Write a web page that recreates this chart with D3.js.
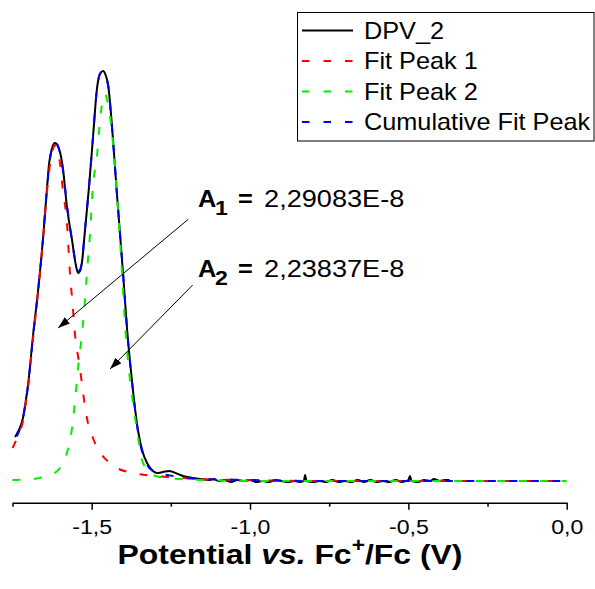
<!DOCTYPE html>
<html>
<head>
<meta charset="utf-8">
<script src="https://cdn.jsdelivr.net/npm/d3@7"></script>
<style>
  html, body { margin: 0; padding: 0; background: #fff; }
  svg { display: block; font-family: Arial, "Liberation Sans", sans-serif; }
</style>
</head>
<body>
<script>
// ---------- data (potential V, current µA) ----------
const dpv = [
  [-1.742, 0.44], [-1.733, 0.49], [-1.717, 0.63], [-1.709, 0.78], [-1.701, 0.96],
  [-1.685, 1.46], [-1.669, 1.91], [-1.654, 2.41], [-1.641, 2.93], [-1.635, 3.16],
  [-1.625, 3.33], [-1.616, 3.38], [-1.608, 3.36], [-1.600, 3.29], [-1.591, 3.13],
  [-1.578, 2.74], [-1.562, 2.41], [-1.550, 2.16], [-1.543, 2.08], [-1.537, 2.10],
  [-1.531, 2.18], [-1.521, 2.51], [-1.509, 2.92], [-1.496, 3.43], [-1.483, 3.93],
  [-1.474, 4.07], [-1.464, 4.10], [-1.456, 4.06], [-1.448, 3.96], [-1.433, 3.43],
  [-1.420, 2.86], [-1.401, 2.08], [-1.388, 1.51], [-1.373, 1.01], [-1.354, 0.51],
  [-1.338, 0.28], [-1.325, 0.18], [-1.310, 0.11], [-1.294, 0.08], [-1.275, 0.09],
  [-1.255, 0.10], [-1.243, 0.09], [-1.220, 0.06], [-1.199, 0.04], [-1.180, 0.03],
  [-1.158, 0.02], [-1.130, 0.01], [-1.115, 0.02], [-1.100, 0.00], [-1.080, 0.01],
  [-1.060, -0.01], [-1.040, 0.01], [-1.020, 0.00], [-1.000, 0.01], [-0.980, -0.01],
  [-0.960, 0.00], [-0.940, -0.01], [-0.920, 0.01], [-0.900, 0.00], [-0.880, -0.01],
  [-0.860, 0.00], [-0.840, -0.01], [-0.830, 0.00], [-0.826, 0.06], [-0.822, 0.00],
  [-0.800, -0.01], [-0.780, 0.00], [-0.760, -0.01], [-0.740, 0.01], [-0.720, -0.01],
  [-0.700, 0.00], [-0.680, -0.01], [-0.660, 0.01], [-0.640, -0.01], [-0.620, 0.01],
  [-0.600, -0.01], [-0.580, 0.00], [-0.560, -0.01], [-0.540, 0.01], [-0.520, -0.01],
  [-0.500, 0.01], [-0.495, 0.05], [-0.490, 0.00], [-0.470, -0.01], [-0.450, 0.01],
  [-0.430, 0.00], [-0.420, 0.02], [-0.400, 0.00], [-0.385, 0.01], [-0.370, 0.01]
];

const fitPeak1 = [
  [-1.750, 0.33], [-1.733, 0.45], [-1.717, 0.60], [-1.709, 0.76], [-1.701, 0.93],
  [-1.685, 1.43], [-1.669, 1.90], [-1.654, 2.40], [-1.641, 2.90], [-1.630, 3.20],
  [-1.622, 3.32], [-1.616, 3.36], [-1.608, 3.30], [-1.600, 3.18], [-1.591, 2.91],
  [-1.578, 2.58], [-1.569, 2.10], [-1.560, 1.76], [-1.553, 1.48], [-1.537, 1.13],
  [-1.527, 0.88], [-1.515, 0.63], [-1.496, 0.43], [-1.474, 0.29], [-1.450, 0.20],
  [-1.420, 0.13], [-1.370, 0.08], [-1.300, 0.05], [-1.262, 0.04], [-1.158, 0.02],
  [-1.010, 0.01], [-0.800, 0.00], [0.000, 0.00]
];

const fitPeak2 = [
  [-1.750, 0.01], [-1.685, 0.02], [-1.650, 0.04], [-1.622, 0.07], [-1.600, 0.13],
  [-1.584, 0.23], [-1.570, 0.38], [-1.562, 0.53], [-1.553, 0.79], [-1.543, 1.13],
  [-1.531, 1.46], [-1.521, 1.81], [-1.515, 2.08], [-1.505, 2.48], [-1.497, 2.91],
  [-1.483, 3.26], [-1.474, 3.59], [-1.466, 3.80], [-1.458, 3.87], [-1.448, 3.76],
  [-1.436, 3.49], [-1.420, 2.86], [-1.404, 2.08], [-1.395, 1.58], [-1.379, 1.01],
  [-1.370, 0.79], [-1.357, 0.51], [-1.338, 0.18], [-1.306, 0.06], [-1.262, 0.03],
  [-1.158, 0.01], [-1.000, 0.00], [0.000, 0.00]
];

const cumulativeFit = [
  [-1.750, 0.34], [-1.733, 0.47], [-1.717, 0.62], [-1.709, 0.78], [-1.701, 0.95],
  [-1.685, 1.45], [-1.669, 1.91], [-1.654, 2.41], [-1.641, 2.93], [-1.630, 3.25],
  [-1.622, 3.36], [-1.616, 3.39], [-1.608, 3.36], [-1.600, 3.28], [-1.591, 3.12],
  [-1.578, 2.76], [-1.562, 2.40], [-1.550, 2.17], [-1.543, 2.10], [-1.537, 2.11],
  [-1.531, 2.19], [-1.521, 2.52], [-1.509, 2.92], [-1.496, 3.43], [-1.483, 3.93],
  [-1.474, 4.07], [-1.464, 4.10], [-1.456, 4.06], [-1.448, 3.95], [-1.433, 3.42],
  [-1.420, 2.86], [-1.401, 2.08], [-1.388, 1.50], [-1.373, 1.00], [-1.354, 0.50],
  [-1.338, 0.26], [-1.325, 0.16], [-1.306, 0.10], [-1.294, 0.08], [-1.262, 0.06],
  [-1.199, 0.03], [-1.158, 0.02], [-1.000, 0.01], [-0.800, 0.00], [0.000, 0.00]
];

const xDomain = [-1.75, 0];
const majorTicks = [-1.5, -1.0, -0.5, 0.0];
const minorTicks = [-1.75, -1.25, -0.75, -0.25];

const legendNames = ["DPV_2", "Fit Peak 1", "Fit Peak 2", "Cumulative Fit Peak"];
const areaLabels = ["2,29083E-8", "2,23837E-8"];

// ---------- layout ----------
const W = 595, H = 589;
const STRETCH = 1.1; // text in the reference is a bit wide

const svg = d3.select("body").append("svg").attr("width", W).attr("height", H);

const x = d3.scaleLinear().domain(xDomain).range([12.5, 566.7]);
const y = d3.scaleLinear().domain([0, 4]).range([481, 81]);

// arrow head
svg.append("defs").append("marker")
  .attr("id", "head")
  .attr("markerUnits", "userSpaceOnUse")
  .attr("viewBox", "0 0 12 8")
  .attr("markerWidth", 12).attr("markerHeight", 8)
  .attr("refX", 12).attr("refY", 4)
  .attr("orient", "auto")
  .append("path").attr("d", "M0,0L12,4L0,8z").attr("fill", "#000");

// ---------- axis ----------
const axisY = 502.7;
const fmt = (d) => d3.format(".1f")(d).replace("\u2212", "-").replace(".", ",");

const axisG = svg.append("g")
  .attr("transform", `translate(0,${axisY})`)
  .call(d3.axisBottom(x).tickValues(majorTicks).tickSize(7).tickSizeOuter(0).tickPadding(9).tickFormat(fmt));
axisG.select(".domain").attr("stroke-width", 1.5);
axisG.selectAll(".tick line").attr("stroke-width", 1.5);
axisG.selectAll(".tick text")
  .attr("font-size", 21)
  .attr("font-family", "Arial, 'Liberation Sans', sans-serif")
  .attr("fill", "#000")
  .attr("transform", `scale(${STRETCH},1)`);

const minorG = svg.append("g")
  .attr("transform", `translate(0,${axisY})`)
  .call(d3.axisBottom(x).tickValues(minorTicks).tickSize(4).tickFormat(""));
minorG.select(".domain").remove();
minorG.selectAll(".tick line").attr("stroke-width", 1.5);

// axis title
const title = svg.append("text")
  .attr("transform", `translate(290,564) scale(1.14,1)`)
  .attr("text-anchor", "middle")
  .attr("font-size", 28)
  .attr("font-weight", "bold")
  .attr("fill", "#000");
title.append("tspan").text("Potential ");
title.append("tspan").attr("font-style", "italic").text("vs.");
title.append("tspan").text(" Fc");
title.append("tspan").attr("font-size", 20).attr("dy", -12).text("+");
title.append("tspan").attr("dy", 12).text("/Fc (V)");

// ---------- curves ----------
const line = d3.line()
  .x((d) => x(d[0]))
  .y((d) => y(d[1]))
  .curve(d3.curveMonotoneX);

const series = [
  { data: dpv, color: "#000000", dash: null, offset: 0 },
  { data: fitPeak1, color: "#ff0000", dash: "8,13.5", offset: 0 },
  { data: fitPeak2, color: "#00f000", dash: "8,13.5", offset: 0 },
  { data: cumulativeFit, color: "#0000ff", dash: "8,13.5", offset: 10 }
];

svg.append("g").selectAll("path")
  .data(series)
  .join("path")
  .attr("d", (s) => line(s.data))
  .attr("fill", "none")
  .attr("stroke", (s) => s.color)
  .attr("stroke-width", 2)
  .attr("stroke-linejoin", "round")
  .attr("stroke-dasharray", (s) => s.dash)
  .attr("stroke-dashoffset", (s) => s.offset);

// ---------- legend ----------
const legend = svg.append("g");
legend.append("rect")
  .attr("x", 297.5).attr("y", 12.5)
  .attr("width", 296.5).attr("height", 128.5)
  .attr("fill", "#fff").attr("stroke", "#000").attr("stroke-width", 1);

const rows = legend.selectAll("g.row")
  .data(series)
  .join("g")
  .attr("class", "row")
  .attr("transform", (s, i) => `translate(0,${30.5 + i * 30.5})`);
rows.append("line")
  .attr("x1", 302).attr("x2", 353)
  .attr("stroke", (s) => s.color)
  .attr("stroke-width", 2)
  .attr("stroke-dasharray", (s) => (s.dash ? "7.5,14" : null));
rows.append("text")
  .attr("transform", `translate(364,8.3) scale(${STRETCH},1)`)
  .attr("font-size", 23)
  .attr("fill", "#000")
  .text((s, i) => legendNames[i]);

// ---------- area annotations ----------
const annotations = [
  { sub: "1", value: areaLabels[0], text: [-1.164, 2.74], from: [-1.195, 2.617], to: [-1.606, 1.53] },
  { sub: "2", value: areaLabels[1], text: [-1.164, 2.043], from: [-1.181, 1.96], to: [-1.442, 1.12] }
];

const ann = svg.append("g").selectAll("g")
  .data(annotations)
  .join("g");

ann.append("line")
  .attr("x1", (d) => x(d.from[0])).attr("y1", (d) => y(d.from[1]))
  .attr("x2", (d) => x(d.to[0])).attr("y2", (d) => y(d.to[1]))
  .attr("stroke", "#000").attr("stroke-width", 1)
  .attr("marker-end", "url(#head)");

function stretched(g, dx, dy, str, size, weight, sx) {
  g.append("text")
    .attr("transform", (d) => `translate(${x(d.text[0]) + dx},${y(d.text[1]) + dy}) scale(${sx || STRETCH},1)`)
    .attr("font-size", size)
    .attr("font-weight", weight)
    .attr("fill", "#000")
    .text(str);
}
stretched(ann, 0, 0, "A", 23, "bold");
stretched(ann, 17, 8, (d) => d.sub, 21, "bold");
stretched(ann, 40, 0, "=", 23, "bold");
stretched(ann, 66, 0, (d) => d.value, 23, "normal", 1.18);
</script>
</body>
</html>
